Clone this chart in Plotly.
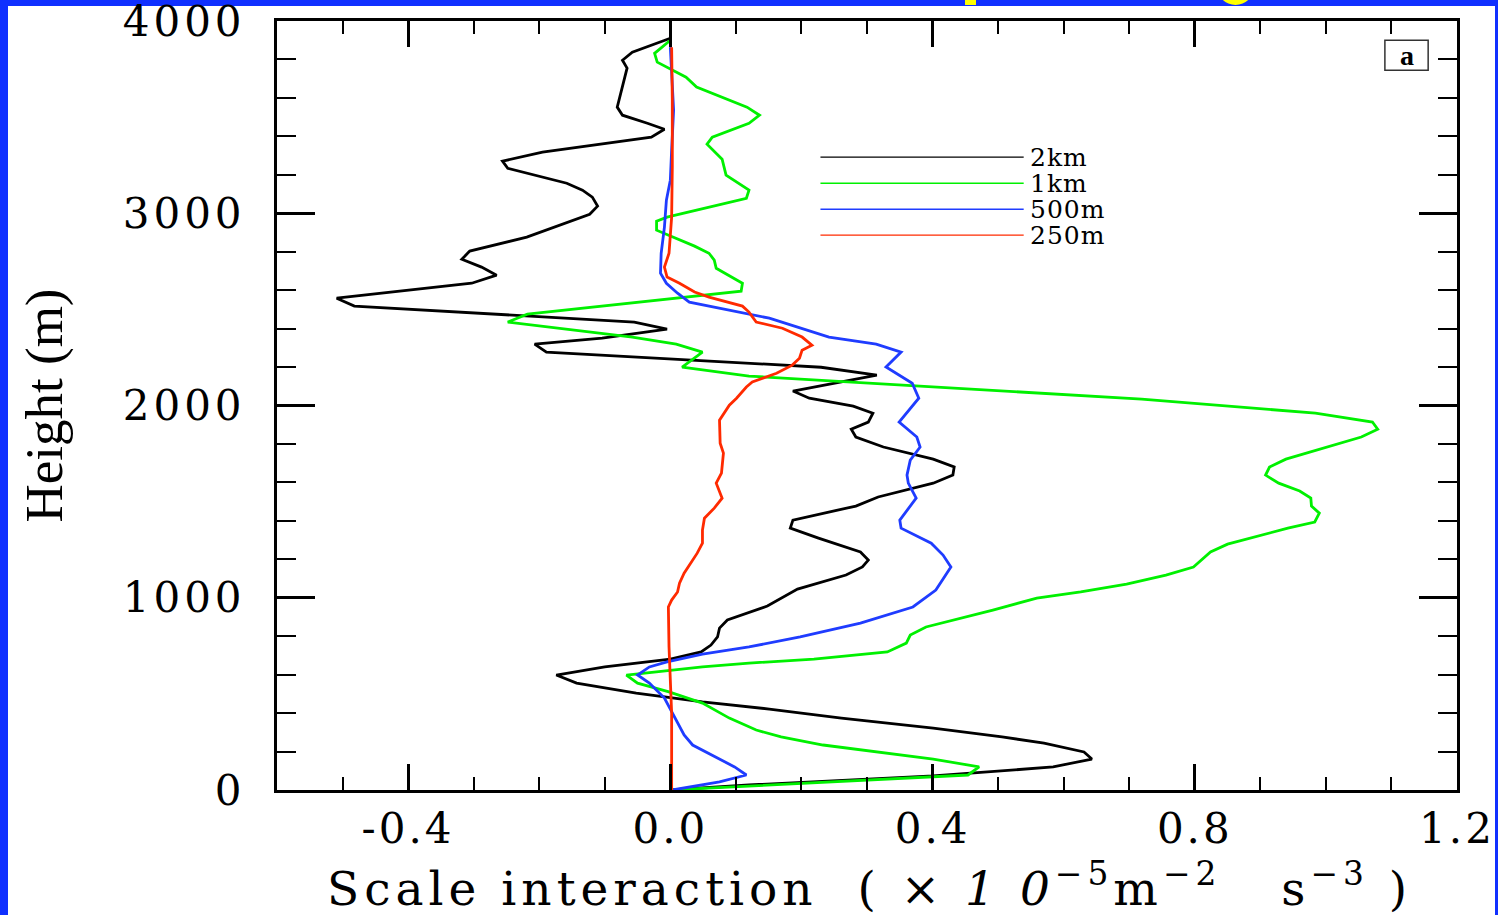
import plotly.graph_objects as go

# ---------------- data ----------------
series_names = ["2km", "1km", "500m", "250m"]
series_colors = ["#000000", "#00F000", "#1F3CFF", "#FF2A00"]

black_x = [0.0, -0.02, -0.058, -0.073, -0.066, -0.081, -0.073, -0.035, -0.009, -0.029,
           -0.104, -0.195, -0.256, -0.248, -0.158, -0.134, -0.119, -0.111, -0.123, -0.219,
           -0.306, -0.318, -0.288, -0.265, -0.303, -0.509, -0.482, -0.055, -0.005, -0.104,
           -0.207, -0.189, 0.230, 0.315, 0.187, 0.212, 0.279, 0.309, 0.302, 0.276,
           0.283, 0.325, 0.401, 0.433, 0.431, 0.401, 0.317, 0.283, 0.187, 0.183,
           0.226, 0.290, 0.302, 0.293, 0.268, 0.194, 0.148, 0.087, 0.075, 0.072,
           0.062, 0.047, 0.0, -0.10, -0.174, -0.143, -0.052, 0.049, 0.151, 0.261,
           0.401, 0.506, 0.570, 0.631, 0.643, 0.584, 0.401, 0.120, 0.0]
black_y = [3910, 3884, 3838, 3796, 3755, 3552, 3510, 3468, 3437, 3396,
           3359, 3318, 3271, 3234, 3156, 3120, 3084, 3037, 2995, 2876,
           2803, 2761, 2720, 2678, 2636, 2558, 2517, 2434, 2397, 2350,
           2319, 2278, 2199, 2158, 2075, 2038, 1997, 1960, 1914, 1877,
           1836, 1784, 1721, 1680, 1638, 1596, 1524, 1477, 1404, 1362,
           1310, 1238, 1196, 1160, 1118, 1045, 957, 884, 842, 796,
           754, 718, 681, 640, 598, 556, 504, 458, 421, 374,
           322, 276, 244, 198, 161, 120, 73, 26, 0]

green_x = [0.0, -0.024, -0.020, 0.024, 0.040, 0.059, 0.117, 0.136, 0.120, 0.064,
           0.056, 0.079, 0.085, 0.120, 0.116, -0.005, -0.021, -0.021, 0.037, 0.059,
           0.067, 0.070, 0.093, 0.110, 0.108, -0.218, -0.248, -0.058, 0.009, 0.049,
           0.018, 0.120, 0.719, 0.984, 1.071, 1.079, 1.054, 0.990, 0.939, 0.914,
           0.908, 0.928, 0.960, 0.977, 0.978, 0.990, 0.983, 0.942, 0.893, 0.850,
           0.824, 0.798, 0.756, 0.696, 0.626, 0.559, 0.492, 0.443, 0.390, 0.366,
           0.360, 0.331, 0.219, 0.120, 0.049, -0.067, -0.050, -0.002, 0.049, 0.090,
           0.131, 0.169, 0.233, 0.401, 0.471, 0.454, 0.120, 0.0]
green_y = [3900, 3832, 3786, 3708, 3656, 3630, 3552, 3510, 3468, 3396,
           3359, 3281, 3198, 3120, 3078, 2980, 2959, 2912, 2829, 2792,
           2756, 2714, 2668, 2636, 2595, 2475, 2434, 2356, 2319, 2278,
           2200, 2153, 2033, 1960, 1914, 1877, 1836, 1773, 1721, 1680,
           1638, 1596, 1555, 1518, 1477, 1440, 1394, 1362, 1316, 1279,
           1238, 1160, 1118, 1071, 1030, 998, 936, 894, 848, 806,
           764, 718, 681, 660, 640, 598, 556, 510, 452, 374,
           312, 276, 234, 161, 120, 78, 21, 0]

blue_x = [0.0, 0.003, 0.005, 0.002, 0.0, -0.006, -0.009, -0.014, -0.015, -0.006,
          0.011, 0.029, 0.075, 0.151, 0.242, 0.314, 0.352, 0.329, 0.369, 0.379,
          0.349, 0.376, 0.381, 0.366, 0.361, 0.363, 0.375, 0.350, 0.352, 0.398,
          0.416, 0.428, 0.405, 0.370, 0.290, 0.239, 0.198, 0.120, 0.049, -0.005,
          -0.032, -0.050, -0.032, -0.009, 0.003, 0.021, 0.034, 0.064, 0.098, 0.116,
          0.075, 0.003]
blue_y = [3864, 3676, 3536, 3328, 3172, 3068, 2928, 2792, 2688, 2636,
          2584, 2538, 2506, 2454, 2356, 2319, 2278, 2200, 2116, 2038,
          1914, 1836, 1784, 1716, 1638, 1596, 1518, 1404, 1362, 1284,
          1222, 1160, 1040, 952, 868, 827, 796, 744, 707, 666,
          640, 598, 556, 478, 400, 286, 234, 182, 120, 78,
          42, 0]

red_x = [0.002, 0.003, 0.003, 0.002, -0.002, -0.009, -0.005, 0.014, 0.037, 0.059,
         0.110, 0.120, 0.131, 0.171, 0.201, 0.216, 0.201, 0.197, 0.186, 0.162,
         0.125, 0.116, 0.101, 0.090, 0.075, 0.076, 0.081, 0.078, 0.070, 0.079,
         0.067, 0.052, 0.049, 0.049, 0.041, 0.029, 0.021, 0.014, 0.011, 0.002,
         -0.003, -0.002, 0.002, 0.002, 0.002]
red_y = [3864, 3588, 3240, 2980, 2792, 2720, 2668, 2636, 2590, 2564,
         2517, 2486, 2434, 2402, 2356, 2314, 2288, 2246, 2210, 2168,
         2122, 2096, 2038, 2002, 1924, 1804, 1752, 1648, 1596, 1518,
         1466, 1414, 1352, 1284, 1232, 1170, 1128, 1076, 1030, 988,
         952, 744, 400, 140, 0]

x_tickvals = [-0.4, 0.0, 0.4, 0.8, 1.2]
x_ticktext = ["-0.4", "0.0", "0.4", "0.8", "1.2"]
y_tickvals = [0, 1000, 2000, 3000, 4000]
y_ticktext = ["0", "1000", "2000", "3000", "4000"]

xs = [black_x, green_x, blue_x, red_x]
ys = [black_y, green_y, blue_y, red_y]

# ---------------- figure ----------------
W, H = 1498, 915
ML, MR, MT, MB = 277, 41, 21, 125
PW, PH = W - ML - MR, H - MT - MB


def px_x(p):
    return (p - ML) / PW


def px_y(p):
    return (H - MB - p) / PH


def spaced(t, ls):
    return '<span style="letter-spacing:%dpx">%s</span>' % (ls, t)


fig = go.Figure()
for name, col, x, y in zip(series_names, series_colors, xs, ys):
    fig.add_trace(go.Scatter(x=x, y=y, mode="lines", name=name,
                             line=dict(color=col, width=2.8), showlegend=False))

shapes = []
# white slide area on blue background
shapes.append(dict(type="rect", xref="paper", yref="paper", layer="below",
                   x0=px_x(8), x1=px_x(1495), y0=px_y(916), y1=px_y(6),
                   fillcolor="white", line=dict(width=0)))
# yellow fragments of the cut-off slide title
shapes.append(dict(type="rect", xref="paper", yref="paper",
                   x0=px_x(965), x1=px_x(976), y0=px_y(5), y1=px_y(-20),
                   fillcolor="#FFFF00", line=dict(width=0)))
shapes.append(dict(type="circle", xref="paper", yref="paper",
                   x0=px_x(1217), x1=px_x(1254), y0=px_y(5), y1=px_y(-32),
                   fillcolor="#FFFF00", line=dict(width=0)))

# manual legend
leg_x0, leg_x1, leg_lab = 0.229, 0.539, 0.546
leg_y = [3292, 3156, 3021, 2886]
annotations = []
for name, col, ly in zip(series_names, series_colors, leg_y):
    shapes.append(dict(type="line", xref="x", yref="y", x0=leg_x0, x1=leg_x1,
                       y0=ly, y1=ly, line=dict(color=col, width=1.4)))
    annotations.append(dict(x=leg_lab, y=ly, xref="x", yref="y", text=spaced(name, 1),
                            showarrow=False, xanchor="left", yanchor="middle",
                            font=dict(family="DejaVu Serif", size=25, color="black")))

# panel label box "a"
shapes.append(dict(type="rect", xref="x", yref="y", x0=1.090, x1=1.156,
                   y0=3744, y1=3900, line=dict(color="#333333", width=1.5),
                   fillcolor="white"))
annotations.append(dict(x=1.123, y=3822, xref="x", yref="y", text="<b>a</b>",
                        showarrow=False, xanchor="center", yanchor="middle",
                        font=dict(family="Liberation Serif", size=28, color="black")))

# axis titles
nb = "\u00a0"
xtitle = ("Scale interaction " + nb + "(" + nb + "\u00d7" + nb + "<i>1" + nb + "0</i>"
          + "<sup>\u22125</sup>m<sup>\u22122</sup>" + nb * 3 + "s<sup>\u22123</sup>" + nb + ")")
annotations.append(dict(x=px_x(869), y=px_y(885), xref="paper", yref="paper",
                        text=spaced(xtitle, 5),
                        showarrow=False, xanchor="center", yanchor="middle",
                        font=dict(family="DejaVu Serif", size=47, color="black")))
annotations.append(dict(x=px_x(44), y=0.5, xref="paper", yref="paper",
                        text="Height (m)", textangle=-90,
                        showarrow=False, xanchor="center", yanchor="middle",
                        font=dict(family="Liberation Serif", size=53, color="black")))

axis_common = dict(showgrid=False, zeroline=False, showline=True, linecolor="black",
                   linewidth=3, mirror="ticks", ticks="inside", tickcolor="black",
                   ticklabeloverflow="allow", automargin=False,
                   tickfont=dict(family="DejaVu Serif", size=42, color="black"))

fig.update_layout(
    width=W, height=H, autosize=False,
    margin=dict(l=ML, r=MR, t=MT, b=MB),
    paper_bgcolor="#1030FF", plot_bgcolor="white",
    shapes=shapes, annotations=annotations, showlegend=False,
    xaxis=dict(range=[-0.6, 1.2], tickvals=x_tickvals,
               ticktext=[spaced(t, 3) for t in x_ticktext],
               ticklen=26, tickwidth=3, ticklabelstandoff=0,
               minor=dict(dtick=0.1, tick0=0, ticklen=13, tickwidth=1.5,
                          ticks="inside", tickcolor="black"),
               **axis_common),
    yaxis=dict(range=[0, 4000], tickvals=y_tickvals,
               ticktext=[spaced(t, 4) for t in y_ticktext],
               ticklen=38, tickwidth=3, ticklabelstandoff=20,
               minor=dict(dtick=200, tick0=0, ticklen=19, tickwidth=1.5,
                          ticks="inside", tickcolor="black"),
               **axis_common),
)

fig.write_html("out.html")
